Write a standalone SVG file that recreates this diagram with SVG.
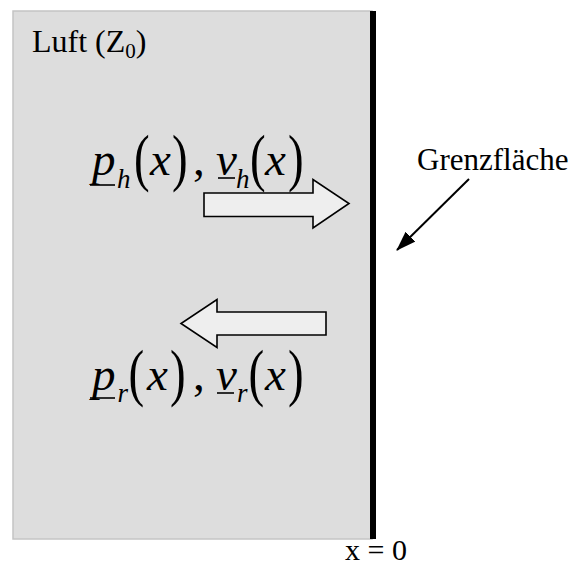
<svg xmlns="http://www.w3.org/2000/svg" width="577" height="566" viewBox="0 0 577 566">
<style>
text{font-family:"Liberation Serif","Times New Roman",serif;fill:#000}
.m{font-size:47px;font-style:italic}
.n{font-size:47px;font-style:normal}
.sub{font-size:27px;font-style:italic}
.ul{stroke:#000;stroke-width:1.6}
.fat{fill:#eeeeee;stroke:#000;stroke-width:1.6;stroke-linejoin:miter}
</style>
<defs>
<marker id="ah" viewBox="0 0 20 14" refX="19" refY="7" markerWidth="20" markerHeight="14" markerUnits="userSpaceOnUse" orient="auto">
<path d="M0,0 L20,7 L0,14 z" fill="#000"/>
</marker>
</defs>
<g id="luft">
<rect x="13" y="11" width="359" height="528" fill="#dddddd" stroke="#c4c4c4" stroke-width="1.5"/>
<text x="32" y="52" font-size="32">Luft (Z<tspan font-size="21" dy="6">0</tspan><tspan dy="-6">)</tspan></text>
</g>
<g id="grenze">
<rect x="370" y="11" width="6" height="528" fill="#000"/>
</g>
<g id="label-grenze">
<text x="417" y="170" font-size="31">Grenzfläche</text>
</g>
<g id="hin">
<text x="92" y="175" class="m">p</text>
<text x="117" y="188" class="sub">h</text>
<text class="n" transform="translate(134,179) scale(1,1.35)">(</text>
<text x="150" y="175" class="m">x</text>
<text class="n" transform="translate(172,179) scale(1,1.35)">)</text>
<text x="193" y="175" class="n">,</text>
<text x="216" y="175" class="m">v</text>
<text x="236" y="188" class="sub">h</text>
<text class="n" transform="translate(250,179) scale(1,1.35)">(</text>
<text x="265" y="175" class="m">x</text>
<text class="n" transform="translate(288,179) scale(1,1.35)">)</text>
<line x1="90" y1="185" x2="115" y2="185" class="ul"/>
<line x1="218" y1="178" x2="235" y2="178" class="ul"/>
<polygon class="fat" points="204,193 313,193 313,179.5 349,203.5 313,228 313,216.5 204,216.5"/>
</g>
<g id="rueck">
<polygon class="fat" points="326,312 217,312 217,299.5 181,323.5 217,347.5 217,335 326,335"/>
<text x="92" y="390" class="m">p</text>
<text x="117.5" y="402" class="sub">r</text>
<text class="n" transform="translate(128.5,394) scale(1,1.35)">(</text>
<text x="147" y="390" class="m">x</text>
<text class="n" transform="translate(170,394) scale(1,1.35)">)</text>
<text x="193" y="390" class="n">,</text>
<text x="216" y="390" class="m">v</text>
<text x="237" y="402" class="sub">r</text>
<text class="n" transform="translate(248.5,394) scale(1,1.35)">(</text>
<text x="265" y="390" class="m">x</text>
<text class="n" transform="translate(288,394) scale(1,1.35)">)</text>
<line x1="90" y1="398" x2="115" y2="398" class="ul"/>
<line x1="217" y1="393" x2="234" y2="393" class="ul"/>
</g>
<g id="connectors">
<line x1="469" y1="179" x2="397" y2="250" stroke="#000" stroke-width="2" marker-end="url(#ah)"/>
</g>
<g id="achse">
<text x="345" y="560" font-size="30">x = 0</text>
</g>
</svg>
